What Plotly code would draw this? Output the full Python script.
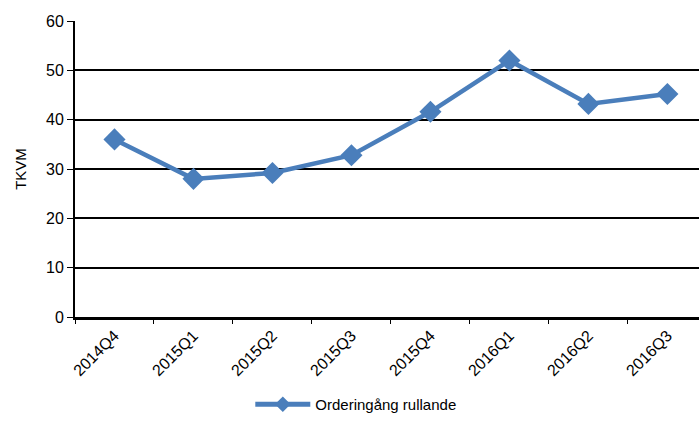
import plotly.graph_objects as go

categories = ["2014Q4", "2015Q1", "2015Q2", "2015Q3", "2015Q4", "2016Q1", "2016Q2", "2016Q3"]
values = [36.0, 28.0, 29.2, 32.8, 41.6, 52.0, 43.2, 45.2]
series_name = "Orderingång rullande"

fig = go.Figure()
fig.add_trace(go.Scatter(
    x=categories, y=values, name=series_name, mode="lines+markers",
    line=dict(color="#4A7EBB", width=4.5),
    marker=dict(symbol="diamond", size=17, color="#4A7EBB"),
))

fig.update_layout(
    width=699, height=421,
    margin=dict(l=75, r=0, t=21, b=98.5),
    paper_bgcolor="white", plot_bgcolor="white",
    font=dict(family="Arial, Liberation Sans, sans-serif", size=14, color="black"),
    showlegend=True,
    legend=dict(orientation="h", x=0.45, xanchor="center", y=-0.297, yanchor="middle",
                font=dict(size=15), bgcolor="rgba(0,0,0,0)", itemsizing="constant",
                itemwidth=55),
)
fig.update_xaxes(
    type="category", range=[-0.5, 7.40], tickangle=-45,
    tickson="boundaries", ticks="outside", ticklen=4, tickcolor="black", tickwidth=1,
    showline=True, linecolor="black", linewidth=3, showgrid=False,
    tickfont=dict(size=16),
)
fig.update_yaxes(
    range=[0, 60], dtick=10, ticks="outside", ticklen=6, tickcolor="black",
    showline=True, linecolor="black", linewidth=2,
    showgrid=True, gridcolor="black", gridwidth=1.5, zeroline=False,
    title=dict(text="TKVM", font=dict(size=15), standoff=16),
    tickfont=dict(size=16),
)
fig.write_html("out.html")
